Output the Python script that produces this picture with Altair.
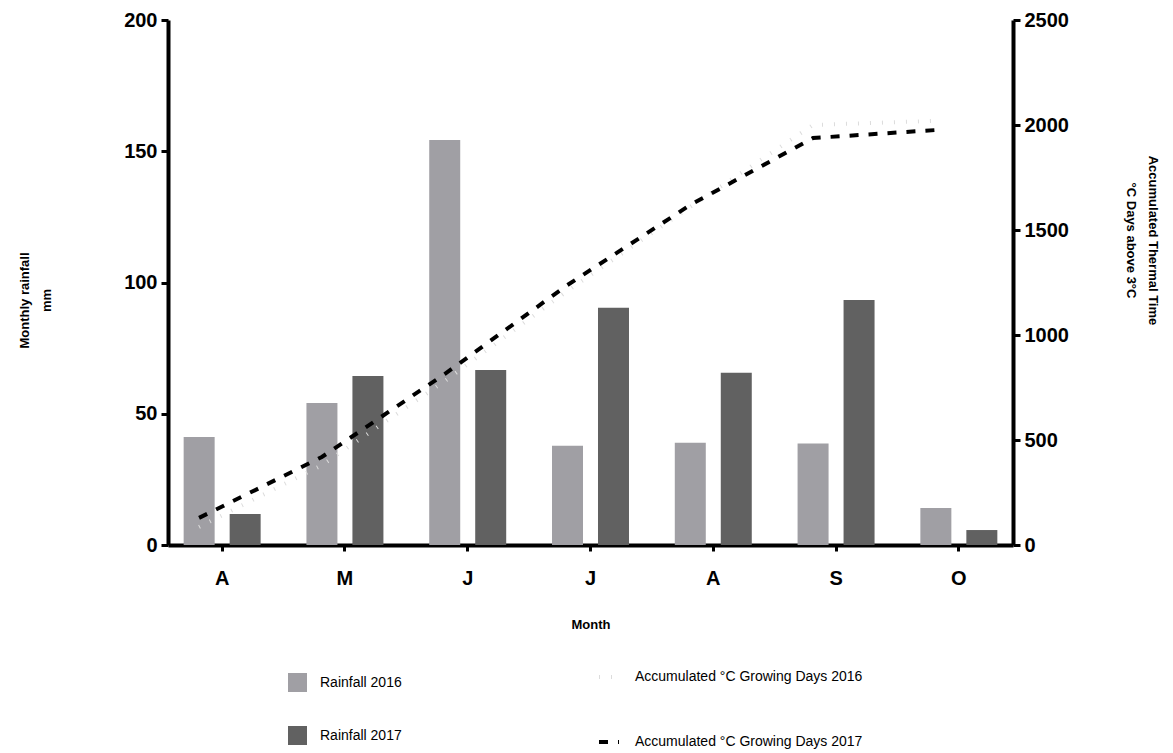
import altair as alt
import pandas as pd

# ---- data ----
months = ["April", "May", "June", "July", "August", "September", "October"]
rain_2016 = [41.1, 54.1, 154.3, 37.8, 39.0, 38.7, 14.1]
rain_2017 = [11.8, 64.4, 66.7, 90.4, 65.6, 93.3, 5.7]
gdd_2016 = [86, 380, 780, 1210, 1610, 2000, 2020]
gdd_2017 = [129, 419, 814, 1238, 1619, 1938, 1976]

bar_series = ["Rainfall 2016", "Rainfall 2017"]
line_series = ["Accumulated °C Growing Days 2016", "Accumulated °C Growing Days 2017"]
bar_colors = ["#a09fa4", "#616161"]
line_colors = ["#dcdcdc", "#000000"]
line_dashes = [[1, 11], [9, 10]]

y_left_ticks = [0, 50, 100, 150, 200]
y_right_ticks = [0, 500, 1000, 1500, 2000, 2500]

df_bar = pd.DataFrame({
    "month": months * 2,
    "series": [bar_series[0]] * len(months) + [bar_series[1]] * len(months),
    "rain": rain_2016 + rain_2017,
})
df_line = pd.DataFrame({
    "month": months * 2,
    "series": [line_series[0]] * len(months) + [line_series[1]] * len(months),
    "gdd": gdd_2016 + gdd_2017,
})

FONT = "Liberation Sans"

x_axis = alt.Axis(
    title="Month", labelExpr="substring(datum.label, 0, 1)", labelAngle=0,
    labelFontSize=20, labelFontWeight="bold", labelPadding=17,
    tickSize=6, tickWidth=3, domainWidth=4,
    titleFontSize=13, titleFontWeight="bold", titlePadding=30,
)
x_scale = alt.Scale(paddingInner=0.373, paddingOuter=0.1275)

bars = alt.Chart(df_bar).mark_bar().encode(
    x=alt.X("month:N", sort=months, scale=x_scale, axis=x_axis),
    xOffset=alt.XOffset("series:N", sort=bar_series,
                        scale=alt.Scale(paddingInner=0.326, paddingOuter=0)),
    y=alt.Y("rain:Q", scale=alt.Scale(domain=[0, 200], nice=False),
            axis=alt.Axis(values=y_left_ticks, format="d",
                          title=["Monthly rainfall", "mm"],
                          labelFontSize=20, labelFontWeight="bold", labelPadding=4,
                          tickSize=7, tickWidth=3, domainWidth=4,
                          titleFontSize=13, titleFontWeight="bold",
                          titleLineHeight=22, titlePadding=70, titleY=280)),
    fill=alt.Fill("series:N", scale=alt.Scale(domain=bar_series, range=bar_colors),
                  legend=alt.Legend(title=None, orient="none", legendX=120, legendY=653,
                                    symbolType="square", symbolSize=361,
                                    symbolStrokeWidth=0, rowPadding=34,
                                    labelOffset=13, labelFontSize=14,
                                    labelFontWeight="normal", labelLimit=400,
                                    padding=0)),
)

line_legend = alt.Legend(title=None, orient="none", legendX=429, legendY=645,
                         symbolType="stroke", symbolSize=400, symbolStrokeWidth=4,
                         rowPadding=45, labelOffset=14, labelFontSize=14,
                         labelFontWeight="normal", labelLimit=500, padding=0)

lines = alt.Chart(df_line).mark_line(strokeCap="butt", strokeWidth=4).encode(
    x=alt.X("month:N", sort=months, scale=x_scale, axis=x_axis, bandPosition=0.2),
    y=alt.Y("gdd:Q", scale=alt.Scale(domain=[0, 2500], nice=False),
            axis=alt.Axis(orient="right", values=y_right_ticks, format="d",
                          title=["Accumulated Thermal Time", "°C Days above 3°C"],
                          labelFontSize=20, labelFontWeight="bold", labelPadding=4,
                          tickSize=7, tickWidth=3, domainWidth=4,
                          titleFontSize=13, titleFontWeight="bold",
                          titleLineHeight=22, titlePadding=55, titleY=220)),
    stroke=alt.Stroke("series:N", scale=alt.Scale(domain=line_series, range=line_colors),
                      legend=line_legend),
    strokeDash=alt.StrokeDash("series:N",
                              scale=alt.Scale(domain=line_series, range=line_dashes),
                              legend=line_legend),
)

chart = alt.layer(bars, lines).resolve_scale(
    y="independent"
).properties(
    width=845, height=525,
    autosize=alt.AutoSizeParams(type="none"),
    padding={"left": 160, "top": 12, "right": 150, "bottom": 206},
).configure_view(stroke=None).configure_axis(
    grid=False, domainColor="black", tickColor="black", labelColor="black",
    titleColor="black", labelFont=FONT, titleFont=FONT,
).configure_legend(labelFont=FONT, labelColor="black")

chart.save("out.html", embed_options={"renderer": "svg", "actions": False})
